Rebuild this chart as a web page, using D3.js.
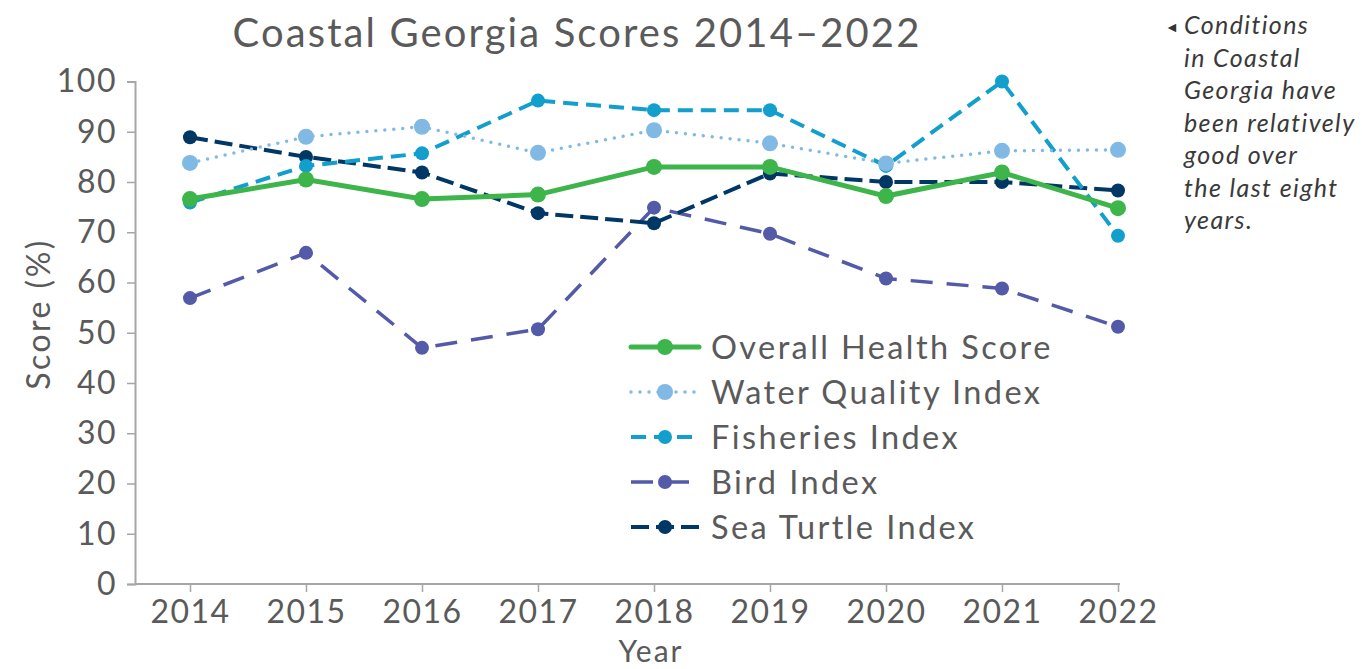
<!DOCTYPE html>
<html>
<head>
<meta charset="utf-8">
<script src="https://cdn.jsdelivr.net/npm/d3@7"></script>
<style>
  html, body { margin: 0; padding: 0; background: #fff; }
  svg { display: block; font-family: Lato, "Noto Sans", sans-serif; }
</style>
</head>
<body>
<svg id="chart" width="1362" height="669"></svg>
<script>
const years = [2014, 2015, 2016, 2017, 2018, 2019, 2020, 2021, 2022];
const yTicks = [0, 10, 20, 30, 40, 50, 60, 70, 80, 90, 100];
const overallHealth = [76.6, 80.5, 76.6, 77.5, 83.0, 83.0, 77.2, 81.9, 74.8];
const waterQuality  = [83.8, 89.0, 91.0, 85.8, 90.3, 87.7, 83.7, 86.2, 86.4];
const fisheries     = [75.9, 83.2, 85.7, 96.2, 94.3, 94.3, 83.2, 100.0, 69.3];
const bird          = [56.9, 65.9, 47.0, 50.7, 74.9, 69.7, 60.8, 58.8, 51.2];
const seaTurtle     = [88.9, 85.0, 81.9, 73.8, 71.8, 81.7, 80.0, 80.0, 78.3];
const seriesNames = ["Overall Health Score", "Water Quality Index", "Fisheries Index", "Bird Index", "Sea Turtle Index"];
const noteLines = ["Conditions", "in Coastal", "Georgia have", "been relatively", "good over", "the last eight", "years."];

const styles = [
  { color: "#3db54a", width: 5,   dash: null,    r: 8,   cap: "round" },
  { color: "#80b9e4", width: 3.5, dash: "0 9",   r: 8,   cap: "round" },
  { color: "#129fcd", width: 4,   dash: "15 8",  r: 7,   cap: "butt" },
  { color: "#535aa8", width: 3.5, dash: "22 14", r: 7,   cap: "butt" },
  { color: "#003764", width: 4,   dash: "18 7",  r: 7,   cap: "butt" }
];
const seriesData = [overallHealth, waterQuality, fisheries, bird, seaTurtle];

const svg = d3.select("#chart");
const textColor = "#5a5a5a";
const axisColor = "#a6a6a6";

const x = d3.scalePoint().domain(years).range([190, 1118]);
const y = d3.scaleLinear().domain([0, 100]).range([584, 81.5]);

// Title
svg.append("text")
  .attr("x", 577).attr("y", 47)
  .attr("text-anchor", "middle")
  .attr("font-size", 40)
  .attr("letter-spacing", 2.1)
  .attr("fill", textColor)
  .text("Coastal Georgia Scores 2014–2022");

// Y axis
const yAxis = svg.append("g")
  .attr("transform", "translate(135,0)")
  .call(d3.axisLeft(y).tickValues(yTicks).tickSize(8).tickPadding(10).tickFormat(d3.format("d")));
yAxis.select(".domain").attr("stroke", axisColor).attr("stroke-width", 2);
yAxis.selectAll(".tick line").attr("stroke", axisColor).attr("stroke-width", 1.5);
yAxis.selectAll(".tick text").attr("font-size", 32).attr("fill", textColor)
  .attr("letter-spacing", 1.5)
  .attr("font-family", "Lato, sans-serif");

// X axis
const xAxis = svg.append("g")
  .attr("transform", "translate(0,584)")
  .call(d3.axisBottom(x).tickSize(8).tickPadding(8).tickFormat(d3.format("d")));
xAxis.select(".domain").attr("d", "M135,0H1120").attr("stroke", axisColor).attr("stroke-width", 2);
xAxis.selectAll(".tick line").attr("stroke", axisColor).attr("stroke-width", 1.5);
xAxis.selectAll(".tick text").attr("font-size", 32).attr("fill", textColor)
  .attr("letter-spacing", 1.5)
  .attr("font-family", "Lato, sans-serif");

// Axis titles
svg.append("text")
  .attr("transform", "translate(50,314) rotate(-90)")
  .attr("text-anchor", "middle")
  .attr("font-size", 32)
  .attr("letter-spacing", 2.5)
  .attr("fill", textColor)
  .text("Score (%)");
svg.append("text")
  .attr("x", 651).attr("y", 662)
  .attr("text-anchor", "middle")
  .attr("font-size", 30)
  .attr("letter-spacing", 2)
  .attr("fill", textColor)
  .text("Year");

// Lines
const line = d3.line().x((d, i) => x(years[i])).y(d => y(d));
const drawOrder = [3, 4, 2, 1, 0];
drawOrder.forEach(si => {
  const st = styles[si];
  const g = svg.append("g");
  g.append("path")
    .datum(seriesData[si])
    .attr("d", line)
    .attr("fill", "none")
    .attr("stroke", st.color)
    .attr("stroke-width", st.width)
    .attr("stroke-linecap", st.cap)
    .attr("stroke-dasharray", st.dash);
  g.selectAll("circle")
    .data(seriesData[si])
    .join("circle")
    .attr("cx", (d, i) => x(years[i]))
    .attr("cy", d => y(d))
    .attr("r", st.r)
    .attr("fill", st.color);
});

// Legend
const legend = svg.append("g");
seriesNames.forEach((name, i) => {
  const st = styles[i];
  const ly = 347 + i * 45;
  legend.append("line")
    .attr("x1", 631).attr("x2", 699).attr("y1", ly).attr("y2", ly)
    .attr("stroke", st.color)
    .attr("stroke-width", st.width)
    .attr("stroke-linecap", st.cap)
    .attr("stroke-dasharray", st.dash);
  legend.append("circle")
    .attr("cx", 665).attr("cy", ly).attr("r", st.r).attr("fill", st.color);
  legend.append("text")
    .attr("x", 711).attr("y", ly + 11.5)
    .attr("font-size", 32.5)
    .attr("letter-spacing", 2.4)
    .attr("fill", textColor)
    .text(name);
});

// Annotation
svg.append("text")
  .attr("x", 1165).attr("y", 32)
  .attr("font-size", 14)
  .attr("fill", "#333")
  .text("◄");
const note = svg.append("text")
  .attr("font-size", 25)
  .attr("font-style", "italic")
  .attr("letter-spacing", 1.4)
  .attr("fill", "#3a3a3a");
noteLines.forEach((t, i) => {
  note.append("tspan").attr("x", 1184).attr("y", 34 + i * 32.5).text(t);
});
</script>
</body>
</html>
